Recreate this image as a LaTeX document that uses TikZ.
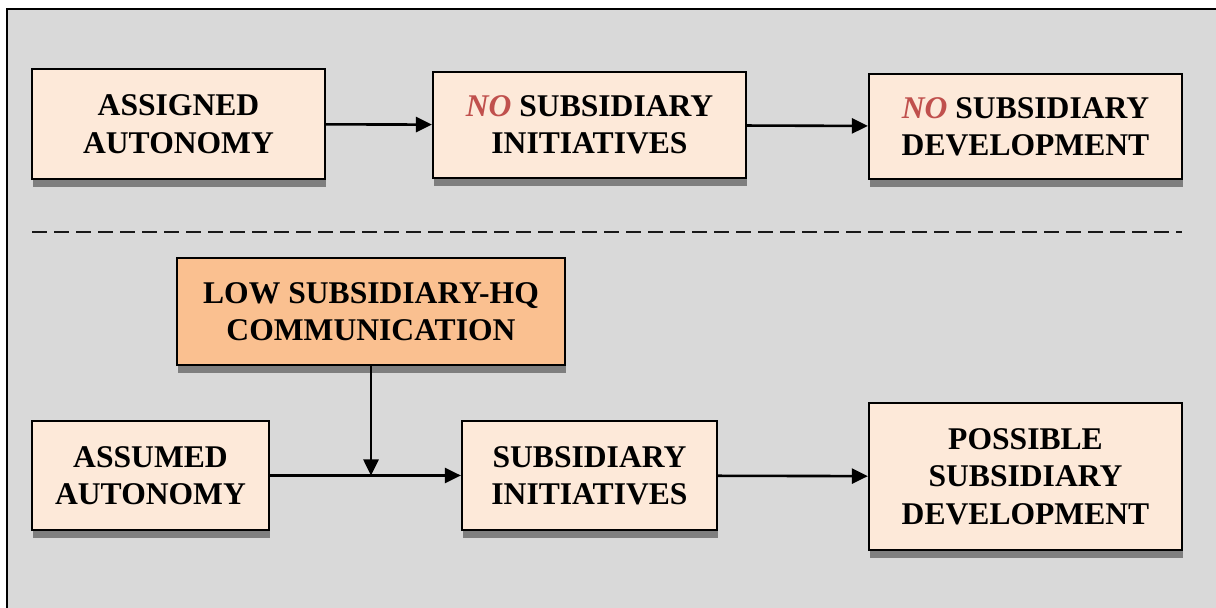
\documentclass[tikz,border=0pt]{standalone}
\usepackage{fontspec}
\setmainfont{Liberation Serif}
\usetikzlibrary{arrows.meta,shadows}
\definecolor{panel}{HTML}{D9D9D9}
\definecolor{peach}{HTML}{FDE9D9}
\definecolor{orangebox}{HTML}{FAC090}
\definecolor{shade}{HTML}{7F7F7F}
\definecolor{nored}{HTML}{C0504D}
\newcommand{\nomark}{{\color{nored}\itshape NO}}
\begin{document}
\begin{tikzpicture}[x=0.5pt,y=-0.5pt,
  box/.style={draw=black, line width=1.1pt, fill=peach, align=center,
    font=\fontsize{15.8}{18.7}\selectfont\bfseries, inner sep=0pt,
    drop shadow={shadow xshift=0.5pt, shadow yshift=-4pt, fill=shade, opacity=1}},
  link/.style={line width=1.3pt, -{Triangle[length=8pt,width=7.5pt]}},
  divider/.style={line width=1pt, draw=black!90, dash pattern=on 7.5pt off 3.5pt}]
  \useasboundingbox (0,0) rectangle (1216,608);
  \clip (0,0) rectangle (1216,608);
  % panel with its frame
  \fill[panel] (7,9) rectangle (1240,630);
  \draw[line width=1.25pt] (1240,9) -- (7,9) -- (7,630);

  % upper row: assigned autonomy
  \node[box, minimum width=146.5pt, minimum height=55pt] (assigned) at (178.5,124) {ASSIGNED\\AUTONOMY};
  \node[box, minimum width=156.5pt, minimum height=53pt] (noinit) at (589.5,125) {\nomark{} SUBSIDIARY\\INITIATIVES};
  \node[box, minimum width=156.5pt, minimum height=52.5pt] (nodev) at (1025.5,126.5) {\nomark{} SUBSIDIARY\\DEVELOPMENT};

  % separator
  \coordinate (sepL) at (32,232);
  \coordinate (sepR) at (1182,232);
  \draw[divider] (sepL) -- (sepR);

  % lower row: assumed autonomy
  \node[box, fill=orangebox, minimum width=194pt, minimum height=53.5pt] (comm) at (371,311.5) {LOW SUBSIDIARY-HQ\\COMMUNICATION};
  \node[box, minimum width=118.5pt, minimum height=54.5pt] (assumed) at (150.5,475.5) {ASSUMED\\AUTONOMY};
  \node[box, minimum width=127.5pt, minimum height=54.5pt] (init) at (589.5,475.5) {SUBSIDIARY\\INITIATIVES};
  \node[box, minimum width=156.5pt, minimum height=73.5pt] (dev) at (1025.5,476.5) {POSSIBLE\\SUBSIDIARY\\DEVELOPMENT};

  % connectors
  \draw[link] (assigned) -- (noinit);
  \draw[link] (noinit) -- (nodev);
  \draw[link] (assumed) -- (init);
  \coordinate (join) at (comm.south |- assumed.east);
  \draw[link] (comm) -- (join);
  \draw[link] (init) -- (dev);
\end{tikzpicture}
\end{document}
